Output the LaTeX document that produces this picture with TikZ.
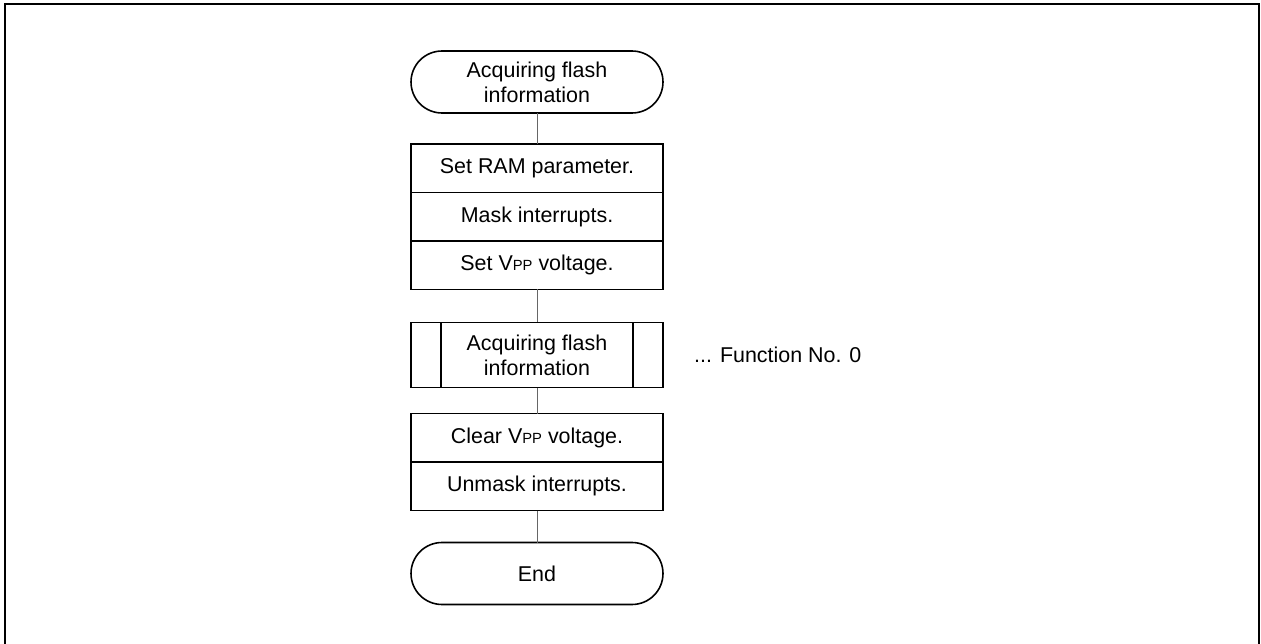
\documentclass[tikz,border=0pt]{standalone}
\usepackage{fontspec}
\setmainfont{Liberation Sans}
\usetikzlibrary{positioning}

\newcommand{\Vpp}{V{\fontsize{8.4}{9}\selectfont PP}}

\begin{document}
\begin{tikzpicture}[
        every node/.style={font=\fontsize{12.2}{14.2}\selectfont},
        term/.style={rectangle, rounded corners=0.62cm, draw, line width=0.9pt, minimum height=1.24cm, minimum width=5.04cm, align=center, outer sep=0pt},
        proc/.style={rectangle, draw, line width=0.9pt, minimum height=0.97cm, minimum width=5.04cm, align=center, outer sep=0pt},
        sub/.style={rectangle, draw, line width=0.9pt, minimum height=1.3cm, minimum width=5.04cm, align=center, outer sep=0pt},
        link/.style={draw=black!60, line width=0.5pt},
    ]
        \useasboundingbox (0,0) rectangle (25.22,-12.88);
        \draw[line width=1.1pt] (0.1,-12.95) -- (0.1,-0.08) -- (25.18,-0.08) -- (25.18,-12.95);

        \node[term] (start) at (10.74,-1.64) {Acquiring flash\\information};
        \node[proc, below=0.62cm of start] (ram) {Set RAM parameter.};
        \node[proc, below=0pt of ram] (mask) {Mask interrupts.};
        \node[proc, below=0pt of mask] (setv) {Set \Vpp{} voltage.};
        \node[sub, below=0.66cm of setv] (info) {Acquiring flash\\information};
        \node[right=0.5cm of info] (func) {... Function No. 0};
        \node[proc, below=0.52cm of info] (clrv) {Clear \Vpp{} voltage.};
        \node[proc, below=0pt of clrv] (unmask) {Unmask interrupts.};
        \node[term, below=0.64cm of unmask] (stop) {End};

        \draw[line width=0.9pt] ([xshift=0.6cm]info.north west) -- ([xshift=0.6cm]info.south west);
        \draw[line width=0.9pt] ([xshift=-0.6cm]info.north east) -- ([xshift=-0.6cm]info.south east);

        \draw[link] (start) -- (ram);
        \draw[link] (setv) -- (info);
        \draw[link] (info) -- (clrv);
        \draw[link] (unmask) -- (stop);
    \end{tikzpicture}
\end{document}
